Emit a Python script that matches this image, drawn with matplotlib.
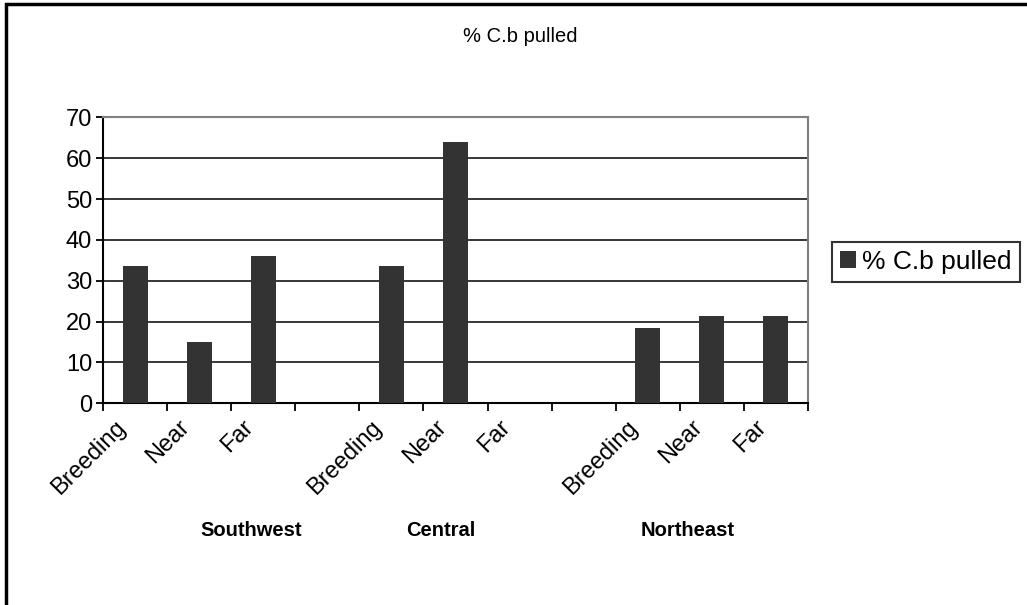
import matplotlib.pyplot as plt
from matplotlib.patches import Rectangle
from matplotlib.transforms import ScaledTranslation

plt.rcParams["font.family"] = ["Liberation Sans", "DejaVu Sans"]

# site categories (blank slots separate the three regions)
sites = ["Breeding", "Near", "Far", "",
         "Breeding", "Near", "Far", "",
         "Breeding", "Near", "Far"]
pct_pulled = [33.5, 15.0, 36.0, 0,
              33.5, 64.0, 0, 0,
              18.4, 21.4, 21.4]
regions = ["Southwest", "Central", "Northeast"]
series_name = "% C.b pulled"

W, H = 1027, 605
fig = plt.figure(figsize=(W / 100, H / 100), dpi=100, facecolor="white")

# plot area in pixel units
left, right, top, bottom = 103.3, 807.7, 117.3, 403.3
ax = fig.add_axes([left / W, 1 - bottom / H, (right - left) / W, (bottom - top) / H])

x = list(range(len(sites)))
bars = ax.bar(x, pct_pulled, width=0.395, color="#333333", zorder=3, label=series_name)

ax.set_xlim(-0.5, len(sites) - 0.5)
ax.set_ylim(0, 70)
ax.set_yticks(range(0, 71, 10))
ax.tick_params(axis="y", direction="out", length=5, width=1.3, labelsize=17, pad=3)
ax.yaxis.grid(True, color="black", linewidth=1.1, zorder=0)

# ticks on category boundaries, labels on category centres
ax.set_xticks([i - 0.5 for i in range(len(sites) + 1)])
ax.set_xticklabels([])
ax.tick_params(axis="x", which="major", direction="out", length=6, width=1.3)
ax.set_xticks(x, minor=True)
ax.set_xticklabels(sites, minor=True, rotation=45, ha="right", va="center",
                   rotation_mode="anchor", fontsize=17)
ax.tick_params(axis="x", which="minor", length=0, pad=15)
shift = ScaledTranslation(-13 / 100, 0, fig.dpi_scale_trans)
for lab in ax.get_xticklabels(minor=True):
    lab.set_transform(lab.get_transform() + shift)

for s in ["left", "bottom"]:
    ax.spines[s].set_color("black")
    ax.spines[s].set_linewidth(1.5)
for s in ["top", "right"]:
    ax.spines[s].set_color("#808080")
    ax.spines[s].set_linewidth(1.5)

fig.text(520 / W, 1 - 36 / H, series_name, ha="center", va="center", fontsize=14.5)

for name, px in zip(regions, [251, 441, 688]):
    fig.text(px / W, 1 - 531 / H, name, ha="center", va="center",
             fontsize=14.5, fontweight="bold")

leg = fig.legend(handles=[bars], labels=[series_name],
                 loc="upper left", bbox_to_anchor=(832 / W, 1 - 242 / H),
                 fontsize=19, frameon=True, fancybox=False, shadow=False,
                 handlelength=0.6, handleheight=0.6, handletextpad=0.25,
                 borderpad=0.3, borderaxespad=0)
leg.get_frame().set_edgecolor("black")
leg.get_frame().set_linewidth(1.5)

# chart frame (runs off the right and bottom edges)
fig.patches.append(Rectangle((6 / W, -0.05), 1.1, 1 - 4 / H + 0.05,
                             transform=fig.transFigure, fill=False,
                             edgecolor="black", linewidth=2.5))

fig.savefig("out.png", dpi=100, facecolor="white")
